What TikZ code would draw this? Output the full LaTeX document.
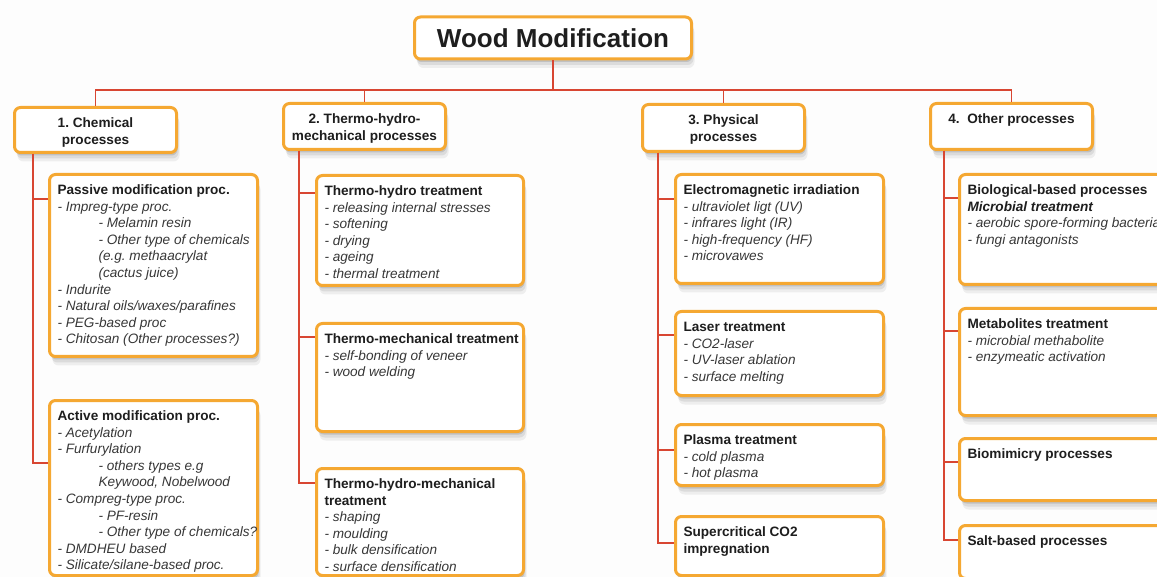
\documentclass[tikz,border=0pt]{standalone}
\usepackage{fontspec}
\setmainfont{Liberation Sans}
\usetikzlibrary{shadows}
\frenchspacing
\definecolor{orng}{RGB}{245,168,50}
\definecolor{lred}{RGB}{216,70,50}
\definecolor{txt}{RGB}{30,30,30}
\definecolor{itx}{RGB}{55,55,55}
\definecolor{bgc}{RGB}{253,253,253}
\newcommand{\hd}[1]{\mbox{\bfseries\color{txt}#1}}
\newcommand{\hdi}[1]{\mbox{\bfseries\itshape\color{txt}#1}}
\newcommand{\itm}[1]{\mbox{\itshape\color{itx}#1}}
\newcommand{\indl}[1]{\mbox{\hspace*{41pt}\itshape\color{itx}#1}}
\newcommand{\bx}[6]{\node[box, anchor=north west, inner xsep=8pt, inner ysep=0pt] (#1) at (#2,#3) {\parbox[c][\dimexpr#5pt-3pt\relax][t]{\dimexpr#4pt-19pt\relax}{\raggedright\rule{0pt}{20pt}#6}};}
\newcommand{\lv}[6]{\node[box, anchor=north west, inner xsep=4pt, inner ysep=0pt] (#1) at (#2,#3) {\parbox[c][\dimexpr#5pt-3pt\relax][t]{\dimexpr#4pt-11pt\relax}{\centering\rule{0pt}{20pt}\bfseries\color{txt}#6}};}
\tikzset{
  box/.style={draw=orng, line width=3pt, rounded corners=6pt, fill=white,
    font=\fontsize{13.6}{16.6}\selectfont,
    drop shadow={shadow xshift=1pt, shadow yshift=-3pt, opacity=0.12, fill=black},
    drop shadow={shadow xshift=2pt, shadow yshift=-6pt, opacity=0.08, fill=black},
    drop shadow={shadow xshift=3pt, shadow yshift=-9pt, opacity=0.06, fill=black}},
  conn/.style={draw=lred, line width=1.5pt}
}
\begin{document}
\begin{tikzpicture}[x=1pt, y=-1pt]
\useasboundingbox (0,0) rectangle (1157,577);
\fill[bgc] (0,0) rectangle (1157,577);
\clip (0,0) rectangle (1157,577);
\coordinate (bus) at (0,90);
\coordinate (s1) at (33,0);
\coordinate (s2) at (299,0);
\coordinate (s3) at (658,0);
\coordinate (s4) at (944,0);

% title
\node[box, minimum width=277pt, minimum height=42pt, inner sep=0pt,
      font=\fontsize{26}{30}\selectfont\bfseries\color{txt}] (title) at (553,38) {Wood Modification};

% level 1
\lv{c1}{13}{106}{165}{48}{1. Chemical\\processes}
\lv{c2}{282}{102}{165}{49}{2. Thermo-hydro-\\mechanical processes}
\lv{c3}{641}{103}{165}{50}{3. Physical\\processes}
\lv{c4}{929}{102}{165}{49}{4.\ \ Other processes}

% column 1
\bx{pa}{48}{173}{211}{185}{\hd{Passive modification proc.}\\
\itm{- Impreg-type proc.}\\
\indl{- Melamin resin}\\
\indl{- Other type of chemicals}\\
\indl{(e.g. methaacrylat}\\
\indl{(cactus juice)}\\
\itm{- Indurite}\\
\itm{- Natural oils/waxes/parafines}\\
\itm{- PEG-based proc}\\
\itm{- Chitosan (Other processes?)}}
\bx{ac}{48}{399}{211}{178}{\hd{Active modification proc.}\\
\itm{- Acetylation}\\
\itm{- Furfurylation}\\
\indl{- others types e.g}\\
\indl{Keywood, Nobelwood}\\
\itm{- Compreg-type proc.}\\
\indl{- PF-resin}\\
\indl{- Other type of chemicals?}\\
\itm{- DMDHEU based}\\
\itm{- Silicate/silane-based proc.}}

% column 2
\bx{th}{315}{174}{210}{113}{\hd{Thermo-hydro treatment}\\
\itm{- releasing internal stresses}\\
\itm{- softening}\\
\itm{- drying}\\
\itm{- ageing}\\
\itm{- thermal treatment}}
\bx{tm}{315}{322}{210}{111}{\hd{Thermo-mechanical treatment}\\
\itm{- self-bonding of veneer}\\
\itm{- wood welding}}
\bx{thm}{315}{467}{210}{110}{\hd{Thermo-hydro-mechanical}\\
\hd{treatment}\\
\itm{- shaping}\\
\itm{- moulding}\\
\itm{- bulk densification}\\
\itm{- surface densification}}

% column 3
\bx{em}{674}{173}{211}{112}{\hd{Electromagnetic irradiation}\\
\itm{- ultraviolet ligt (UV)}\\
\itm{- infrares light (IR)}\\
\itm{- high-frequency (HF)}\\
\itm{- microvawes}}
\bx{la}{674}{310}{211}{87}{\hd{Laser treatment}\\
\itm{- CO2-laser}\\
\itm{- UV-laser ablation}\\
\itm{- surface melting}}
\bx{pl}{674}{423}{211}{64}{\hd{Plasma treatment}\\
\itm{- cold plasma}\\
\itm{- hot plasma}}
\bx{sc}{674}{515}{211}{62}{\hd{Supercritical CO2}\\
\hd{impregnation}}

% column 4
\bx{bio}{958}{173}{211}{113}{\hd{Biological-based processes}\\
\hdi{Microbial treatment}\\
\itm{- aerobic spore-forming bacteria}\\
\itm{- fungi antagonists}}
\bx{me}{958}{307}{211}{110}{\hd{Metabolites treatment}\\
\itm{- microbial methabolite}\\
\itm{- enzymeatic activation}}
\bx{bm}{958}{437}{211}{65}{\hd{Biomimicry processes}}
\bx{sa}{958}{524}{211}{56}{\hd{Salt-based processes}}

% connectors top
\draw[conn] (title.south) -- (title.south |- bus);
\draw[conn] (c1.north) -- (c1.north |- bus) -| (c4.north);
\draw[conn] (c2.north) -- (c2.north |- bus);
\draw[conn] (c3.north) -- (c3.north |- bus);

% column connectors
\draw[conn] (c1.south -| s1) |- ([yshift=-26pt]pa.north west);
\draw[conn] (c1.south -| s1) |- ([yshift=-64pt]ac.north west);
\draw[conn] (c2.south -| s2) |- ([yshift=-19pt]th.north west);
\draw[conn] (c2.south -| s2) |- ([yshift=-15pt]tm.north west);
\draw[conn] (c2.south -| s2) |- ([yshift=-16pt]thm.north west);
\draw[conn] (c3.south -| s3) |- ([yshift=-26pt]em.north west);
\draw[conn] (c3.south -| s3) |- ([yshift=-25pt]la.north west);
\draw[conn] (c3.south -| s3) |- ([yshift=-27pt]pl.north west);
\draw[conn] (c3.south -| s3) |- ([yshift=-28pt]sc.north west);
\draw[conn] (c4.south -| s4) |- ([yshift=-25pt]bio.north west);
\draw[conn] (c4.south -| s4) |- ([yshift=-24pt]me.north west);
\draw[conn] (c4.south -| s4) |- ([yshift=-25pt]bm.north west);
\draw[conn] (c4.south -| s4) |- ([yshift=-16pt]sa.north west);
\end{tikzpicture}
\end{document}
